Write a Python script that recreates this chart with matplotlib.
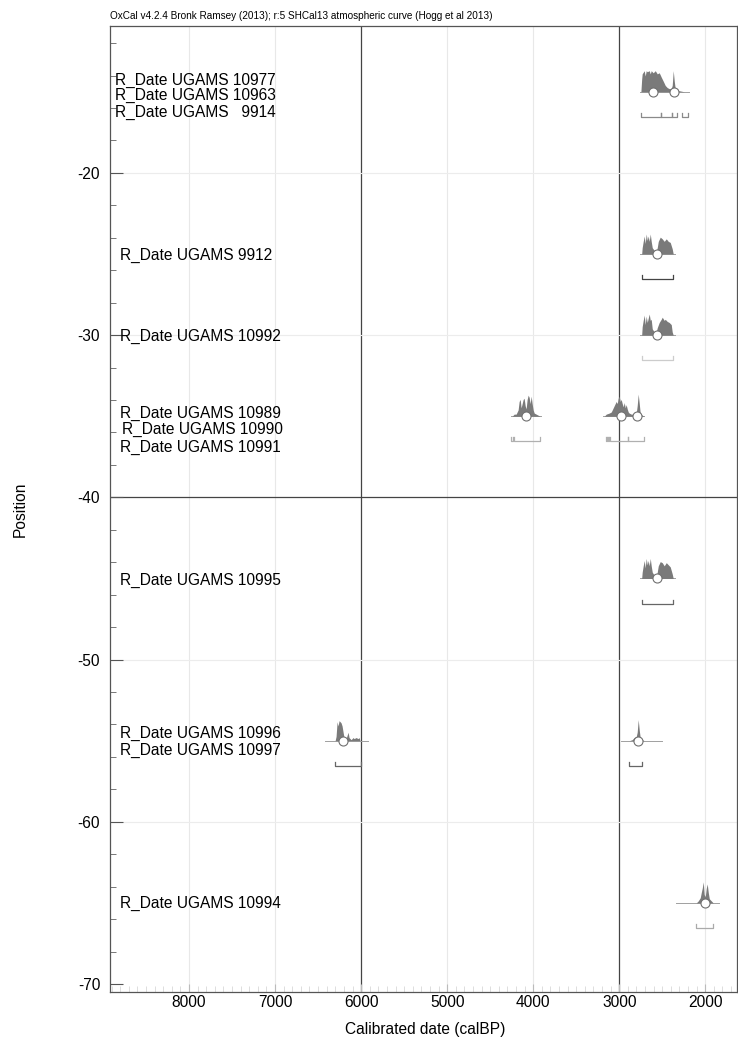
import numpy as np
import matplotlib.pyplot as plt
from matplotlib.ticker import MultipleLocator

plt.rcParams['font.family'] = ['Liberation Sans', 'DejaVu Sans']
plt.rcParams['axes.unicode_minus'] = False

# sample labels and where they are written on the position axis
labels = ["R_Date UGAMS 10977", "R_Date UGAMS 10963", "R_Date UGAMS   9914",
          "R_Date UGAMS 9912", "R_Date UGAMS 10992",
          "R_Date UGAMS 10989", "R_Date UGAMS 10990", "R_Date UGAMS 10991",
          "R_Date UGAMS 10995", "R_Date UGAMS 10996", "R_Date UGAMS 10997",
          "R_Date UGAMS 10994"]
label_pos = [-14.27, -15.25, -16.3, -25.06, -30.1, -34.8, -35.84, -36.95,
             -45.1, -54.55, -55.57, -65.0]
label_x = [0.008, 0.008, 0.008, 0.016, 0.016, 0.016, 0.019, 0.016,
           0.016, 0.016, 0.016, 0.016]

# calibrated distributions: position, dates (calBP), relative probability
pos_a = -15
dates_a = [2748, 2739, 2733, 2709, 2698, 2686, 2674, 2651, 2639, 2628, 2605, 2581, 2558, 2535,
           2523, 2512, 2488, 2465, 2442, 2419, 2395, 2384, 2372, 2360, 2349, 2326, 2302, 2244]
prob_a = [0, .6, .85, 1, .75, 1, .95, 1, .85, 1, .9, 1, .85, .9,
          .8, .7, .5, .3, .2, .15, .15, .3, 1, .5, .15, .05, .05, 0]
span_a = [2760, 2186]
median_a = [2605, 2360]
range_a = [(2748, 2512), (2512, 2384), (2384, 2326), (2268, 2198)]

pos_b = -25
dates_b = [2739, 2733, 2721, 2709, 2698, 2686, 2674, 2663, 2651, 2639, 2628, 2616,
           2593, 2570, 2558, 2546, 2523, 2500, 2477, 2453, 2430, 2407, 2384, 2372]
prob_b = [0, .3, .6, .85, .5, .95, .65, .85, .6, .95, .6, .3,
          .17, .12, .3, .6, .8, .72, .6, .72, .6, .55, .25, 0]
span_b = [2756, 2349]
median_b = [2558]
range_b = [(2739, 2372)]

pos_c = -30
dates_c = [2739, 2733, 2721, 2709, 2698, 2686, 2674, 2663, 2651, 2639, 2628, 2616, 2593,
           2570, 2558, 2535, 2512, 2500, 2477, 2465, 2442, 2419, 2395, 2384, 2372]
prob_c = [0, .4, .7, .95, .5, .9, .6, .8, 1, .7, .75, .3, .15,
          .15, .35, .6, .75, .85, .7, .75, .65, .6, .5, .15, 0]
span_c = [2756, 2349]
median_c = [2558]
range_c = [(2733, 2372)]

pos_d = -35
dates_d = [4244, 4221, 4198, 4175, 4163, 4151, 4140, 4128, 4116, 4105, 4093, 4082,
           4070, 4058, 4047, 4035, 4023, 4012, 4000, 3988, 3965, 3942, 3919]
prob_d = [0, .1, .1, .3, .7, .8, .4, .6, .8, .85, .5, .35,
          .8, 1, .9, .6, .95, .6, .3, .15, .1, .05, 0]
span_d = [4256, 3907]
median_d = [4082]
range_d = [(4256, 4233), (4221, 3919)]

pos_e = -35
dates_e = [3174, 3151, 3116, 3093, 3081, 3058, 3035, 3023, 3012, 3000, 2988, 2977, 2965, 2953, 2942,
           2930, 2919, 2907, 2895, 2884, 2860, 2826, 2802, 2791, 2779, 2767, 2756, 2733, 2709]
prob_e = [0, .1, .15, .2, .3, .5, .7, .6, .85, .95, .7, .8, .6, .45, .65,
          .4, .55, .35, .2, .15, .1, .1, .15, .5, 1.05, .6, .15, .05, 0]
span_e = [3186, 2709]
median_e = [2977, 2791]
range_e = [(3151, 3140), (3128, 3116), (3105, 2895), (2895, 2709)]

pos_f = -45
dates_f = dates_b
prob_f = [0, .3, .6, .85, .5, .95, .65, .85, .6, .95, .6, .3,
          .15, .1, .3, .6, .8, .75, .6, .75, .65, .55, .22, 0]
span_f = [2756, 2349]
median_f = [2558]
range_f = [(2739, 2372)]

pos_g = -55
dates_g = [6302, 6291, 6279, 6268, 6256, 6244, 6233, 6221, 6209, 6198, 6174,
           6163, 6151, 6140, 6116, 6093, 6081, 6058, 6035, 6023, 6012]
prob_g = [0, .2, .9, .7, .95, .9, .85, .7, .4, .15, .1,
          .25, .4, .15, .05, .15, .1, .15, .1, .15, 0]
span_g = [6419, 5919]
median_g = [6209]
range_g = [(6302, 6000)]

pos_h = -55
dates_h = [2884, 2849, 2826, 2802, 2791, 2779, 2767, 2756, 2733, 2709]
prob_h = [0, .05, .15, .2, .4, 1, .5, .15, .05, 0]
span_h = [2977, 2500]
median_h = [2785]
range_h = [(2884, 2733)]

pos_i = -65
dates_i = [2105, 2081, 2058, 2046, 2035, 2023, 2012, 2000, 1988, 1977, 1965, 1953, 1930, 1907]
prob_i = [0, .1, .25, .5, .7, 1, .4, .3, .7, .9, .5, .2, .1, 0]
span_i = [2337, 1837]
median_i = [2000]
range_i = [(2105, 1907)]

dists = [
    (pos_a, dates_a, prob_a, span_a, median_a, range_a, '#8a8a8a'),
    (pos_b, dates_b, prob_b, span_b, median_b, range_b, '#444444'),
    (pos_c, dates_c, prob_c, span_c, median_c, range_c, '#cccccc'),
    (pos_d, dates_d, prob_d, span_d, median_d, range_d, '#b0b0b0'),
    (pos_e, dates_e, prob_e, span_e, median_e, range_e, '#b0b0b0'),
    (pos_f, dates_f, prob_f, span_f, median_f, range_f, '#666666'),
    (pos_g, dates_g, prob_g, span_g, median_g, range_g, '#666666'),
    (pos_h, dates_h, prob_h, span_h, median_h, range_h, '#666666'),
    (pos_i, dates_i, prob_i, span_i, median_i, range_i, '#aaaaaa'),
]

peak = 1.3       # height of a full-probability spike, in position units
range_drop = 1.55
tick_h = 0.25

fig = plt.figure(figsize=(7.38, 10.45), dpi=100)
ax = fig.add_axes([0.149, 0.0507, 0.850, 0.9245])
ax.set_xlim(8919, 1628)
ax.set_ylim(-70.49, -10.94)

# background grid, heavier every 3000 years / at -40
for x in range(8000, 1000, -1000):
    dark = x in (6000, 3000)
    ax.axvline(x, color='#444444' if dark else '#e8e8e8', lw=0.9 if dark else 0.8, zorder=1)
for y in range(-20, -70, -10):
    dark = y == -40
    ax.axhline(y, color='#444444' if dark else '#ececec', lw=0.9 if dark else 0.8, zorder=1)

for pos, d, p, span, meds, rngs, col in dists:
    ax.plot(span, [pos, pos], color='#a0a0a0', lw=0.7, zorder=3)
    ax.fill_between(d, pos, pos + np.array(p) * peak, color='#7a7a7a', lw=0, zorder=4)
    ax.plot(meds, [pos] * len(meds), 'o', ms=6.5, mfc='white', mec='#707070',
            mew=0.8, zorder=5)
    yb = pos - range_drop
    for a, b in rngs:
        ax.plot([a, a, b, b], [yb + tick_h, yb, yb, yb + tick_h], color=col, lw=0.9, zorder=3)

for txt, y, x in zip(labels, label_pos, label_x):
    ax.text(x, y, txt, transform=ax.get_yaxis_transform(), fontsize=11.2,
            ha='left', va='center', color='black')

ax.yaxis.set_major_locator(MultipleLocator(10))
ax.yaxis.set_minor_locator(MultipleLocator(2))
ax.xaxis.set_major_locator(MultipleLocator(1000))
ax.xaxis.set_minor_locator(MultipleLocator(100))
ax.tick_params(axis='y', which='major', direction='in', length=9, width=0.8,
               color='#555555', labelsize=11.2, pad=7)
ax.tick_params(axis='y', which='minor', direction='in', length=4, width=0.7, color='#777777')
ax.tick_params(axis='x', which='major', direction='in', length=6, width=0.8,
               color='#bbbbbb', labelsize=11.2, pad=2)
ax.tick_params(axis='x', which='minor', direction='in', length=4, width=0.5, color='#d0d0d0')
ax.set_xticks(range(8000, 1000, -1000))
ax.set_yticks(range(-20, -71, -10))

for s in ax.spines.values():
    s.set_color('#555555')
    s.set_linewidth(0.9)

ax.set_ylabel("Position", fontsize=11.2)
ax.yaxis.set_label_coords(-0.131, 0.5)
ax.set_xlabel("Calibrated date (calBP)", fontsize=11.2)
ax.xaxis.set_label_coords(0.502, -0.031)

fig.text(0.149, 1 - 16 / 1045, "OxCal v4.2.4 Bronk Ramsey (2013); r:5 SHCal13 atmospheric curve (Hogg et al 2013)",
         fontsize=7.2, ha='left', va='center')

fig.savefig("out.png", dpi=100)
